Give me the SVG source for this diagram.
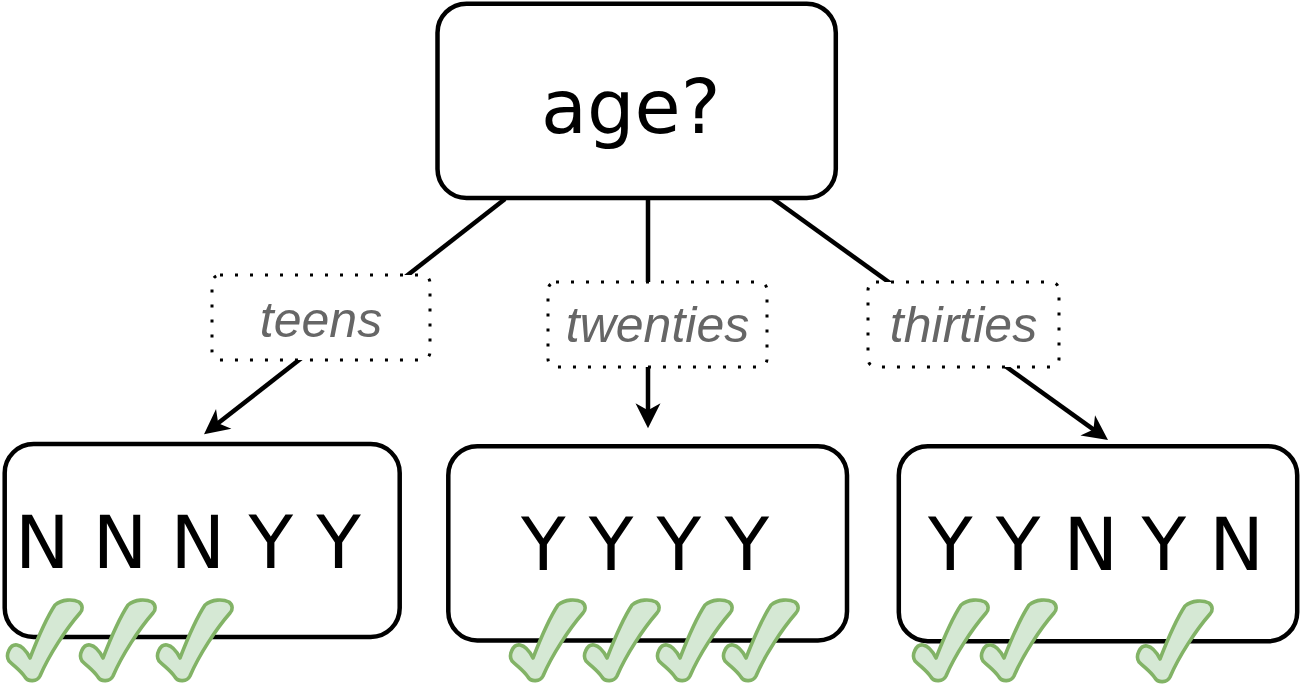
<svg xmlns="http://www.w3.org/2000/svg" xmlns:xlink="http://www.w3.org/1999/xlink" width="1301" height="685" viewBox="0 0 1301 685">
<style>
.box{fill:#ffffff;stroke:#000000;stroke-width:4.5}
.big{font-family:"DejaVu Sans",sans-serif;font-size:73px;fill:#000000}
.lbl{fill:#ffffff;stroke:#000000;stroke-width:3;stroke-dasharray:3 12}
.lt{font-family:"Liberation Sans",Arial,sans-serif;font-style:italic;font-size:50px;fill:#666666;text-anchor:middle}
.edge{fill:none;stroke:#000000;stroke-width:4.5}
.chk{fill:#d5e8d4;stroke:#82b366;stroke-width:3.6;stroke-linejoin:round}
</style>
<defs>
<marker id="arrow" markerUnits="userSpaceOnUse" viewBox="-18 -15 30 30" markerWidth="30" markerHeight="30" refX="0" refY="0" orient="auto">
<path d="M10,0 L-15,-12.5 L-8,0 L-15,12.5 Z" fill="#000000"/>
</marker>
<path id="check" class="chk" d="M48 5 C55 -1,66 -1,72 2 C76 5,76 10,73 13 C59 29,42 55,33 76 C30 82,21 82,18 77 C13 70,8 67,2 61 C-2 55,3 44,10 45 C16 46,20 52,23 58 C30 40,38 20,48 5 Z"/>
</defs>
<rect width="1301" height="685" fill="#ffffff"/>
<g id="connectors">
<line class="edge" x1="505" y1="199" x2="211.9" y2="428.1" marker-end="url(#arrow)"/>
<line class="edge" x1="648" y1="199" x2="648" y2="418.3" marker-end="url(#arrow)"/>
<line class="edge" x1="772" y1="198" x2="1099.9" y2="434.2" marker-end="url(#arrow)"/>
</g>
<g id="node-age">
<rect class="box" x="437.5" y="3.7" width="398.3" height="194.3" rx="29"/>
<text class="big" x="541" y="133" style="font-size:75px">age?</text>
</g>
<g id="label-teens">
<rect class="lbl" x="212" y="275" width="218" height="85" rx="8"/>
<text class="lt" x="321" y="337">teens</text>
</g>
<g id="label-twenties">
<rect class="lbl" x="548" y="282" width="219" height="85" rx="8"/>
<text class="lt" x="657.5" y="342">twenties</text>
</g>
<g id="label-thirties">
<rect class="lbl" x="868" y="282" width="191" height="85" rx="8"/>
<text class="lt" x="963.5" y="342">thirties</text>
</g>
<g id="node-teens">
<rect class="box" x="4.7" y="444" width="395" height="193" rx="29"/>
<text class="big" x="15" y="568">N N N Y Y</text>
</g>
<g id="node-twenties">
<rect class="box" x="448.3" y="446.2" width="398.7" height="194.3" rx="29"/>
<text class="big" x="521" y="570">Y Y Y Y</text>
</g>
<g id="node-thirties">
<rect class="box" x="898.8" y="446.2" width="398.4" height="195" rx="29"/>
<text class="big" x="928" y="570">Y Y N Y N</text>
</g>
<g id="checks-teens">
<use xlink:href="#check" href="#check" transform="translate(7,600)"/>
<use xlink:href="#check" href="#check" transform="translate(80,600)"/>
<use xlink:href="#check" href="#check" transform="translate(157,600)"/>
</g>
<g id="checks-twenties">
<use xlink:href="#check" href="#check" transform="translate(510,600)"/>
<use xlink:href="#check" href="#check" transform="translate(584,600)"/>
<use xlink:href="#check" href="#check" transform="translate(657,600)"/>
<use xlink:href="#check" href="#check" transform="translate(723,600)"/>
</g>
<g id="checks-thirties">
<use xlink:href="#check" href="#check" transform="translate(913,600)"/>
<use xlink:href="#check" href="#check" transform="translate(981,600)"/>
<use xlink:href="#check" href="#check" transform="translate(1137,601)"/>
</g>
</svg>
